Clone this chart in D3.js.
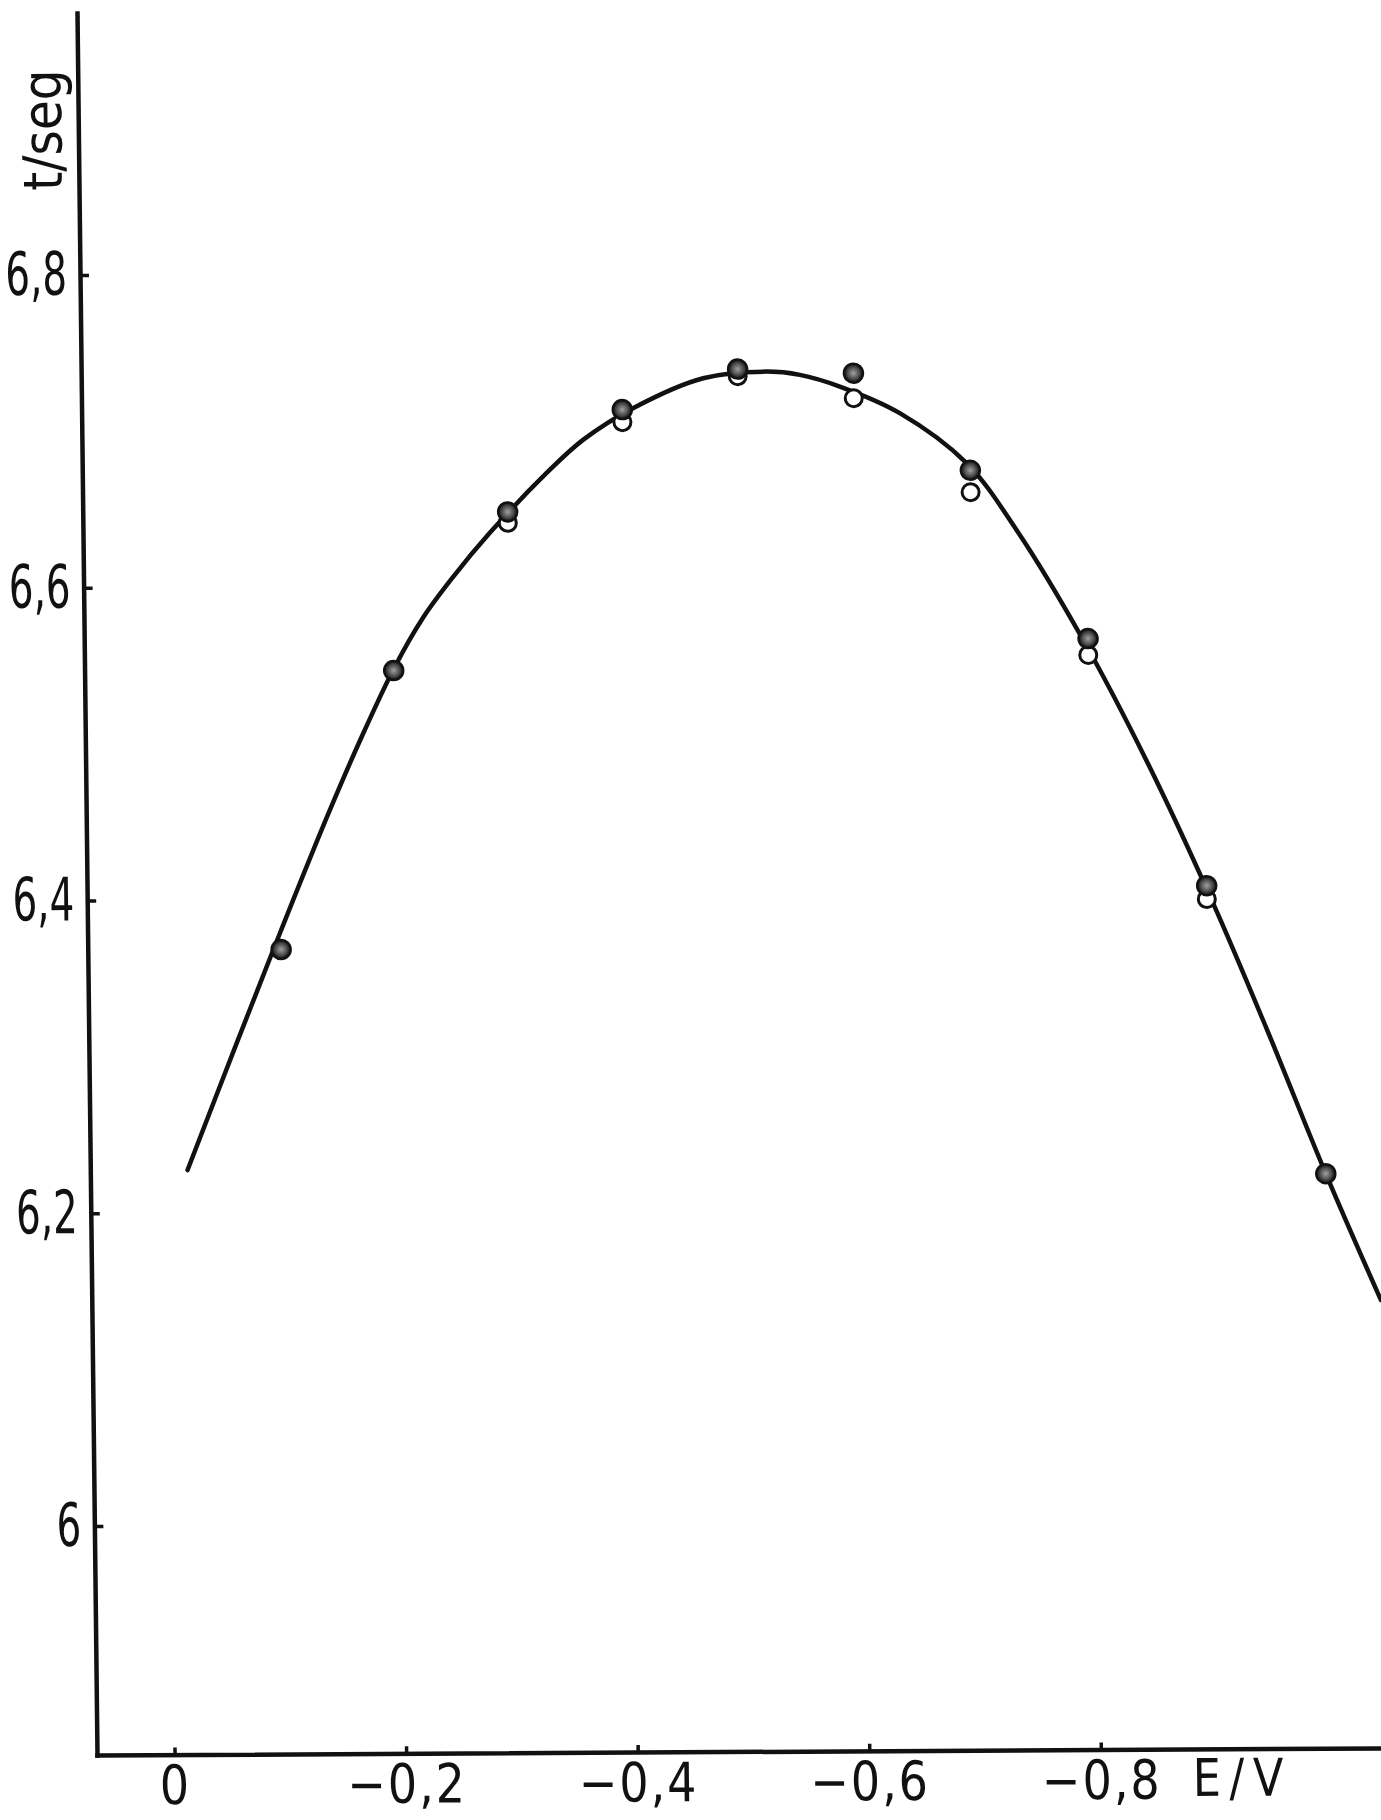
<!DOCTYPE html>
<html>
<head>
<meta charset="utf-8">
<script src="https://cdn.jsdelivr.net/npm/d3@7"></script>
<style>
  html, body { margin: 0; padding: 0; background: #fff; }
  svg { display: block; }
  text { font-family: "DejaVu Sans Condensed", "DejaVu Sans", sans-serif; fill: #111; }
</style>
</head>
<body>
<svg id="chart" width="1381" height="1820"></svg>
<script>
// Electrode potential E / V of each measurement
const potentials = [-0.1, -0.2, -0.3, -0.4, -0.5, -0.6, -0.7, -0.8, -0.9, -1.0];
// Drop time t / seg, first run (filled circles)
const timesFilled = [6.368, 6.546, 6.647, 6.712, 6.7375, 6.7345, 6.672, 6.564, 6.4056, 6.221];
// Drop time t / seg, second run (open circles); no reading where null
const timesOpen = [null, null, 6.640, 6.704, 6.733, 6.7185, 6.658, 6.5535, 6.397, null];

// Hand-drawn electrocapillary curve, read along its length
const curveE = [-0.017, -0.06, -0.10, -0.14, -0.17, -0.20, -0.2257, -0.2521, -0.2842,
                -0.3338, -0.3658, -0.4093, -0.4701, -0.5249, -0.5537, -0.5881, -0.6396, -0.6968, -0.7393,
                -0.7958, -0.8493, -0.9055, -0.9503, -1.0008, -1.0464];
const curveT = [6.2273, 6.3070, 6.3800, 6.4510, 6.5010, 6.5470, 6.5795, 6.6055, 6.6335,
                6.6716, 6.6928, 6.7129, 6.7318, 6.7358, 6.7336, 6.7260, 6.7088, 6.6766, 6.6337,
                6.5631, 6.4857, 6.3941, 6.3140, 6.2196, 6.1400];

// Axis ticks and their labels
const xTicks = [0, -0.2, -0.4, -0.6, -0.8];
const xTickLabels = ["0", "\u22120,2", "\u22120,4", "\u22120,6", "\u22120,8"];
const yTicks = [6, 6.2, 6.4, 6.6, 6.8];
const yTickLabels = ["6", "6,2", "6,4", "6,6", "6,8"];
const xTitle = "E/V";
const yTitle = "t/seg";

const svg = d3.select("#chart");
const ink = "#111";

// Scales: potential grows negative to the right
const x = d3.scaleLinear().domain([0.067, -1.042]).range([97, 1381]);
const y = d3.scaleLinear().domain([5.8536, 6.9675]).range([1755, 13]);

// The sheet sits slightly askew: shear about the axis corner
const origin = [x.range()[0], y.range()[0]];
const g = svg.append("g")
  .attr("transform", `translate(${origin[0]},${origin[1]}) matrix(1,-0.00545,0.01148,1,0,0) translate(${-origin[0]},${-origin[1]})`);

const defs = svg.append("defs");
const grad = defs.append("radialGradient").attr("id", "dotFill");
grad.append("stop").attr("offset", "0%").attr("stop-color", "#a0a0a0");
grad.append("stop").attr("offset", "55%").attr("stop-color", "#555");
grad.append("stop").attr("offset", "100%").attr("stop-color", "#111");

// Axes
const xAxis = d3.axisBottom(x)
  .tickValues(xTicks)
  .tickFormat((d, i) => xTickLabels[i])
  .tickSizeInner(-7)
  .tickSizeOuter(0)
  .tickPadding(11);
const yAxis = d3.axisLeft(y)
  .tickValues(yTicks)
  .tickFormat((d, i) => yTickLabels[i])
  .tickSizeInner(-9)
  .tickSizeOuter(0)
  .tickPadding(13);

const gx = g.append("g").attr("transform", `translate(0,${y.range()[0]})`).call(xAxis);
const gy = g.append("g").attr("transform", `translate(${x.range()[0]},0)`).call(yAxis);

[gx, gy].forEach(a => {
  a.select(".domain").attr("stroke", ink).attr("stroke-width", 4.5).attr("stroke-linecap", "square");
  a.selectAll(".tick line").attr("stroke", ink).attr("stroke-width", 3.5);
  a.selectAll(".tick text").attr("fill", ink).attr("font-family", null);
});

// Narrow, tall lettering for the tick labels
gx.selectAll(".tick text")
  .style("font-size", "54px")
  .attr("letter-spacing", "2px")
  .attr("x", 0)
  .attr("transform", "scale(0.95,1)");

gy.selectAll(".tick text").each(function () {
  const t = d3.select(this);
  const dx = +t.attr("x");
  t.attr("x", 0)
   .style("font-size", "60px")
   .attr("transform", `translate(${dx},0) scale(0.72,1)`);
});

// Axis titles
g.append("text")
  .attr("transform", "translate(1242,1802) scale(0.95,1)")
  .attr("text-anchor", "middle")
  .attr("letter-spacing", "9px")
  .style("font-size", "52px")
  .text(xTitle);

g.append("text")
  .attr("transform", "translate(80,130) rotate(-90)")
  .attr("text-anchor", "middle")
  .style("font-size", "54px")
  .text(yTitle);

// Curve
const curveData = curveE.map((e, i) => ({ e, t: curveT[i] }));
const line = d3.line()
  .x(d => x(d.e))
  .y(d => y(d.t))
  .curve(d3.curveCatmullRom.alpha(0.5));

g.append("path")
  .datum(curveData)
  .attr("d", line)
  .attr("fill", "none")
  .attr("stroke", ink)
  .attr("stroke-width", 4.5)
  .attr("stroke-linecap", "round")
  .attr("stroke-linejoin", "round");

// Open circles first, filled circles over them
const openPts = potentials.map((e, i) => ({ e, t: timesOpen[i] })).filter(d => d.t !== null);
const filledPts = potentials.map((e, i) => ({ e, t: timesFilled[i] }));

g.append("g").selectAll("circle")
  .data(openPts)
  .join("circle")
  .attr("cx", d => x(d.e))
  .attr("cy", d => y(d.t))
  .attr("r", 8.5)
  .attr("fill", "#fff")
  .attr("stroke", ink)
  .attr("stroke-width", 3);

g.append("g").selectAll("circle")
  .data(filledPts)
  .join("circle")
  .attr("cx", d => x(d.e))
  .attr("cy", d => y(d.t))
  .attr("r", 9.5)
  .attr("fill", "url(#dotFill)")
  .attr("stroke", ink)
  .attr("stroke-width", 2.5);
</script>
</body>
</html>
